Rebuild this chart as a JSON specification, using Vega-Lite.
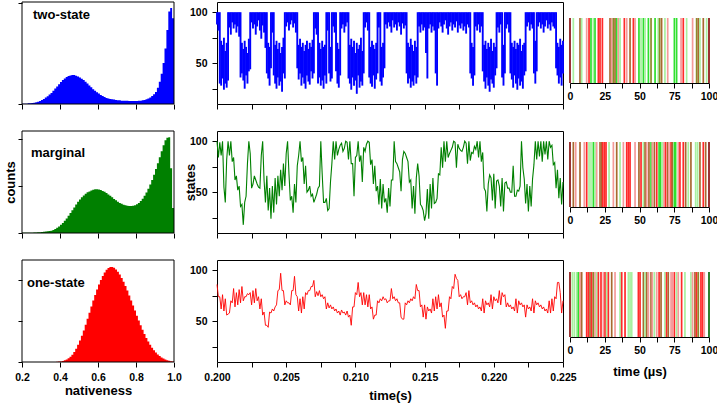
{
"$schema": "https://vega.github.io/schema/vega-lite/v6.json",
"background": "white",
"padding": {"left": 4, "top": 1, "right": 0, "bottom": 0},
"config": {
  "font": "Liberation Sans",
  "view": {"stroke": "black", "strokeWidth": 1},
  "axis": {"labelFont": "Liberation Sans", "labelFontWeight": "bold", "labelFontSize": 10.5, "labelColor": "black", "labelFlush": false,
           "titleFont": "Liberation Sans", "titleFontWeight": "bold", "titleFontSize": 13, "titleColor": "black",
           "domainColor": "black", "tickColor": "black", "grid": false, "labelPadding": 5, "tickSize": 5}
},
"datasets": {
"h1": [
{"n":0.2,"e":0.2,"c":0.01},{"n":0.2,"e":0.21,"c":0.01},{"n":0.21,"e":0.22,"c":0.01},{"n":0.22,"e":0.23,"c":0.01},{"n":0.23,"e":0.24,"c":0.02},{"n":0.24,"e":0.25,"c":0.02},{"n":0.25,"e":0.26,"c":0.03},{"n":0.26,"e":0.27,"c":0.04},{"n":0.27,"e":0.28,"c":0.05},{"n":0.28,"e":0.29,"c":0.07},{"n":0.29,"e":0.3,"c":0.09},
{"n":0.3,"e":0.31,"c":0.12},{"n":0.31,"e":0.32,"c":0.15},{"n":0.32,"e":0.33,"c":0.19},{"n":0.33,"e":0.34,"c":0.23},{"n":0.34,"e":0.35,"c":0.28},{"n":0.35,"e":0.36,"c":0.33},{"n":0.36,"e":0.37,"c":0.39},{"n":0.37,"e":0.38,"c":0.46},{"n":0.38,"e":0.39,"c":0.52},{"n":0.39,"e":0.4,"c":0.59},
{"n":0.4,"e":0.41,"c":0.65},{"n":0.41,"e":0.42,"c":0.71},{"n":0.42,"e":0.43,"c":0.76},{"n":0.43,"e":0.44,"c":0.8},{"n":0.44,"e":0.45,"c":0.83},{"n":0.45,"e":0.46,"c":0.85},{"n":0.46,"e":0.47,"c":0.86},{"n":0.47,"e":0.48,"c":0.86},{"n":0.48,"e":0.49,"c":0.84},{"n":0.49,"e":0.5,"c":0.82},
{"n":0.5,"e":0.51,"c":0.79},{"n":0.51,"e":0.52,"c":0.75},{"n":0.52,"e":0.53,"c":0.71},{"n":0.53,"e":0.54,"c":0.66},{"n":0.54,"e":0.55,"c":0.61},{"n":0.55,"e":0.56,"c":0.55},{"n":0.56,"e":0.57,"c":0.5},{"n":0.57,"e":0.58,"c":0.44},{"n":0.58,"e":0.59,"c":0.39},{"n":0.59,"e":0.6,"c":0.35},
{"n":0.6,"e":0.61,"c":0.31},{"n":0.61,"e":0.62,"c":0.27},{"n":0.62,"e":0.63,"c":0.24},{"n":0.63,"e":0.64,"c":0.21},{"n":0.64,"e":0.65,"c":0.18},{"n":0.65,"e":0.66,"c":0.16},{"n":0.66,"e":0.67,"c":0.15},{"n":0.67,"e":0.68,"c":0.14},{"n":0.68,"e":0.69,"c":0.13},{"n":0.69,"e":0.7,"c":0.12},
{"n":0.7,"e":0.71,"c":0.11},{"n":0.71,"e":0.72,"c":0.11},{"n":0.72,"e":0.73,"c":0.1},{"n":0.73,"e":0.74,"c":0.1},{"n":0.74,"e":0.75,"c":0.1},{"n":0.75,"e":0.76,"c":0.1},{"n":0.76,"e":0.77,"c":0.09},{"n":0.77,"e":0.78,"c":0.09},{"n":0.78,"e":0.79,"c":0.09},{"n":0.79,"e":0.8,"c":0.09},
{"n":0.8,"e":0.81,"c":0.09},{"n":0.81,"e":0.82,"c":0.1},{"n":0.82,"e":0.83,"c":0.1},{"n":0.83,"e":0.84,"c":0.11},{"n":0.84,"e":0.85,"c":0.12},{"n":0.85,"e":0.86,"c":0.14},{"n":0.86,"e":0.87,"c":0.16},{"n":0.87,"e":0.88,"c":0.19},{"n":0.88,"e":0.89,"c":0.24},{"n":0.89,"e":0.9,"c":0.29},
{"n":0.9,"e":0.91,"c":0.36},{"n":0.91,"e":0.92,"c":0.48},{"n":0.92,"e":0.93,"c":0.66},{"n":0.93,"e":0.94,"c":0.9},{"n":0.94,"e":0.95,"c":1.22},{"n":0.95,"e":0.96,"c":1.65},{"n":0.96,"e":0.97,"c":2.2},{"n":0.97,"e":0.98,"c":2.75},{"n":0.98,"e":0.99,"c":2.85},{"n":0.99,"e":1.0,"c":2.55}
],
"h2": [
{"n":0.2,"e":0.2,"c":0.01},{"n":0.2,"e":0.21,"c":0.01},{"n":0.21,"e":0.22,"c":0.01},{"n":0.22,"e":0.23,"c":0.01},{"n":0.23,"e":0.24,"c":0.01},{"n":0.24,"e":0.25,"c":0.01},{"n":0.25,"e":0.26,"c":0.01},{"n":0.26,"e":0.27,"c":0.02},{"n":0.27,"e":0.28,"c":0.02},{"n":0.28,"e":0.29,"c":0.03},{"n":0.29,"e":0.3,"c":0.03},
{"n":0.3,"e":0.31,"c":0.04},{"n":0.31,"e":0.32,"c":0.05},{"n":0.32,"e":0.33,"c":0.06},{"n":0.33,"e":0.34,"c":0.07},{"n":0.34,"e":0.35,"c":0.08},{"n":0.35,"e":0.36,"c":0.1},{"n":0.36,"e":0.37,"c":0.13},{"n":0.37,"e":0.38,"c":0.17},{"n":0.38,"e":0.39,"c":0.22},{"n":0.39,"e":0.4,"c":0.28},
{"n":0.4,"e":0.41,"c":0.35},{"n":0.41,"e":0.42,"c":0.43},{"n":0.42,"e":0.43,"c":0.52},{"n":0.43,"e":0.44,"c":0.62},{"n":0.44,"e":0.45,"c":0.73},{"n":0.45,"e":0.46,"c":0.85},{"n":0.46,"e":0.47,"c":0.97},{"n":0.47,"e":0.48,"c":1.09},{"n":0.48,"e":0.49,"c":1.21},{"n":0.49,"e":0.5,"c":1.33},
{"n":0.5,"e":0.51,"c":1.43},{"n":0.51,"e":0.52,"c":1.52},{"n":0.52,"e":0.53,"c":1.6},{"n":0.53,"e":0.54,"c":1.67},{"n":0.54,"e":0.55,"c":1.73},{"n":0.55,"e":0.56,"c":1.77},{"n":0.56,"e":0.57,"c":1.81},{"n":0.57,"e":0.58,"c":1.84},{"n":0.58,"e":0.59,"c":1.86},{"n":0.59,"e":0.6,"c":1.86},
{"n":0.6,"e":0.61,"c":1.85},{"n":0.61,"e":0.62,"c":1.83},{"n":0.62,"e":0.63,"c":1.79},{"n":0.63,"e":0.64,"c":1.75},{"n":0.64,"e":0.65,"c":1.7},{"n":0.65,"e":0.66,"c":1.64},{"n":0.66,"e":0.67,"c":1.58},{"n":0.67,"e":0.68,"c":1.52},{"n":0.68,"e":0.69,"c":1.45},{"n":0.69,"e":0.7,"c":1.39},
{"n":0.7,"e":0.71,"c":1.33},{"n":0.71,"e":0.72,"c":1.28},{"n":0.72,"e":0.73,"c":1.24},{"n":0.73,"e":0.74,"c":1.2},{"n":0.74,"e":0.75,"c":1.18},{"n":0.75,"e":0.76,"c":1.16},{"n":0.76,"e":0.77,"c":1.15},{"n":0.77,"e":0.78,"c":1.15},{"n":0.78,"e":0.79,"c":1.16},{"n":0.79,"e":0.8,"c":1.18},
{"n":0.8,"e":0.81,"c":1.22},{"n":0.81,"e":0.82,"c":1.28},{"n":0.82,"e":0.83,"c":1.36},{"n":0.83,"e":0.84,"c":1.46},{"n":0.84,"e":0.85,"c":1.58},{"n":0.85,"e":0.86,"c":1.72},{"n":0.86,"e":0.87,"c":1.88},{"n":0.87,"e":0.88,"c":2.06},{"n":0.88,"e":0.89,"c":2.26},{"n":0.89,"e":0.9,"c":2.48},
{"n":0.9,"e":0.91,"c":2.72},{"n":0.91,"e":0.92,"c":2.97},{"n":0.92,"e":0.93,"c":3.22},{"n":0.93,"e":0.94,"c":3.48},{"n":0.94,"e":0.95,"c":3.73},{"n":0.95,"e":0.96,"c":3.95},{"n":0.96,"e":0.97,"c":4.05},{"n":0.97,"e":0.98,"c":4.07},{"n":0.98,"e":0.99,"c":2.75},{"n":0.99,"e":1.0,"c":1.06}
],
"h3": [
{"n":0.36,"e":0.36,"c":0.003},{"n":0.36,"e":0.37,"c":0.003},{"n":0.37,"e":0.38,"c":0.006},{"n":0.38,"e":0.39,"c":0.01},{"n":0.39,"e":0.4,"c":0.02},
{"n":0.4,"e":0.41,"c":0.03},{"n":0.41,"e":0.42,"c":0.05},{"n":0.42,"e":0.43,"c":0.08},{"n":0.43,"e":0.44,"c":0.12},{"n":0.44,"e":0.45,"c":0.18},{"n":0.45,"e":0.46,"c":0.26},{"n":0.46,"e":0.47,"c":0.36},{"n":0.47,"e":0.48,"c":0.49},{"n":0.48,"e":0.49,"c":0.65},{"n":0.49,"e":0.5,"c":0.84},
{"n":0.5,"e":0.51,"c":1.05},{"n":0.51,"e":0.52,"c":1.29},{"n":0.52,"e":0.53,"c":1.55},{"n":0.53,"e":0.54,"c":1.83},{"n":0.54,"e":0.55,"c":2.12},{"n":0.55,"e":0.56,"c":2.42},{"n":0.56,"e":0.57,"c":2.72},{"n":0.57,"e":0.58,"c":3.01},{"n":0.58,"e":0.59,"c":3.29},{"n":0.59,"e":0.6,"c":3.55},
{"n":0.6,"e":0.61,"c":3.8},{"n":0.61,"e":0.62,"c":4.02},{"n":0.62,"e":0.63,"c":4.22},{"n":0.63,"e":0.64,"c":4.39},{"n":0.64,"e":0.65,"c":4.52},{"n":0.65,"e":0.66,"c":4.61},{"n":0.66,"e":0.67,"c":4.66},{"n":0.67,"e":0.68,"c":4.66},{"n":0.68,"e":0.69,"c":4.62},{"n":0.69,"e":0.7,"c":4.54},
{"n":0.7,"e":0.71,"c":4.43},{"n":0.71,"e":0.72,"c":4.29},{"n":0.72,"e":0.73,"c":4.12},{"n":0.73,"e":0.74,"c":3.93},{"n":0.74,"e":0.75,"c":3.72},{"n":0.75,"e":0.76,"c":3.5},{"n":0.76,"e":0.77,"c":3.26},{"n":0.77,"e":0.78,"c":3.02},{"n":0.78,"e":0.79,"c":2.77},{"n":0.79,"e":0.8,"c":2.52},
{"n":0.8,"e":0.81,"c":2.27},{"n":0.81,"e":0.82,"c":2.03},{"n":0.82,"e":0.83,"c":1.8},{"n":0.83,"e":0.84,"c":1.58},{"n":0.84,"e":0.85,"c":1.37},{"n":0.85,"e":0.86,"c":1.18},{"n":0.86,"e":0.87,"c":1.0},{"n":0.87,"e":0.88,"c":0.84},{"n":0.88,"e":0.89,"c":0.7},{"n":0.89,"e":0.9,"c":0.57},
{"n":0.9,"e":0.91,"c":0.46},{"n":0.91,"e":0.92,"c":0.37},{"n":0.92,"e":0.93,"c":0.29},{"n":0.93,"e":0.94,"c":0.22},{"n":0.94,"e":0.95,"c":0.17},{"n":0.95,"e":0.96,"c":0.12},{"n":0.96,"e":0.97,"c":0.09},{"n":0.97,"e":0.98,"c":0.06},{"n":0.98,"e":0.99,"c":0.04},{"n":0.99,"e":1.0,"c":0.02}
],
"tr": [
{"t":0.2,"a":88,"b":100,"g":100,"r":86},{"t":0.2001,"a":82,"b":100,"g":84,"r":74},{"t":0.2002,"a":30,"b":100,"g":99,"r":74},{"t":0.2003,"a":28,"b":72,"g":86,"r":62},{"t":0.2004,"a":35,"b":68,"g":100,"r":76},{"t":0.2005,"a":24,"b":75,"g":55,"r":60},{"t":0.2006,"a":30,"b":62,"g":40,"r":72},{"t":0.2007,"a":26,"b":70,"g":82,"r":56},{"t":0.2008,"a":33,"b":100,"g":100,"r":57},{"t":0.2009,"a":85,"b":100,"g":86,"r":58},
{"t":0.201,"a":78,"b":100,"g":100,"r":70},{"t":0.2011,"a":90,"b":100,"g":80,"r":68},{"t":0.2012,"a":84,"b":100,"g":84,"r":82},{"t":0.2013,"a":88,"b":100,"g":62,"r":64},{"t":0.2014,"a":80,"b":100,"g":66,"r":78},{"t":0.2015,"a":86,"b":100,"g":52,"r":66},{"t":0.2016,"a":76,"b":100,"g":56,"r":81},{"t":0.2017,"a":36,"b":100,"g":36,"r":68},{"t":0.2018,"a":40,"b":70,"g":38,"r":84},{"t":0.2019,"a":33,"b":64,"g":18,"r":70},
{"t":0.202,"a":25,"b":72,"g":40,"r":74},{"t":0.2021,"a":38,"b":66,"g":46,"r":74},{"t":0.2022,"a":30,"b":60,"g":78,"r":77},{"t":0.2023,"a":42,"b":74,"g":100,"r":76},{"t":0.2024,"a":44,"b":100,"g":88,"r":78},{"t":0.2025,"a":90,"b":100,"g":54,"r":66},{"t":0.2026,"a":84,"b":100,"g":58,"r":80},{"t":0.2027,"a":88,"b":100,"g":66,"r":68},{"t":0.2028,"a":78,"b":100,"g":62,"r":82},{"t":0.2029,"a":86,"b":100,"g":58,"r":70},
{"t":0.203,"a":92,"b":100,"g":55,"r":74},{"t":0.2031,"a":82,"b":100,"g":54,"r":62},{"t":0.2032,"a":74,"b":100,"g":86,"r":72},{"t":0.2033,"a":87,"b":100,"g":100,"r":56},{"t":0.2034,"a":80,"b":100,"g":62,"r":59},{"t":0.2035,"a":65,"b":100,"g":40,"r":46},{"t":0.2036,"a":40,"b":100,"g":66,"r":46},{"t":0.2037,"a":35,"b":70,"g":32,"r":44},{"t":0.2038,"a":28,"b":66,"g":54,"r":59},{"t":0.2039,"a":45,"b":100,"g":24,"r":58},
{"t":0.204,"a":80,"b":100,"g":56,"r":62},{"t":0.2041,"a":38,"b":100,"g":30,"r":60},{"t":0.2042,"a":30,"b":68,"g":64,"r":64},{"t":0.2043,"a":25,"b":72,"g":38,"r":66},{"t":0.2044,"a":36,"b":64,"g":66,"r":80},{"t":0.2045,"a":28,"b":70,"g":46,"r":81},{"t":0.2046,"a":32,"b":60,"g":72,"r":97},{"t":0.2047,"a":22,"b":66,"g":52,"r":80},{"t":0.2048,"a":40,"b":75,"g":78,"r":80},{"t":0.2049,"a":35,"b":100,"g":56,"r":66},
{"t":0.205,"a":86,"b":100,"g":88,"r":70},{"t":0.2051,"a":90,"b":100,"g":100,"r":68},{"t":0.2052,"a":82,"b":100,"g":68,"r":68},{"t":0.2053,"a":88,"b":100,"g":42,"r":66},{"t":0.2054,"a":92,"b":100,"g":46,"r":80},{"t":0.2055,"a":85,"b":100,"g":30,"r":80},{"t":0.2056,"a":89,"b":100,"g":58,"r":94},{"t":0.2057,"a":80,"b":100,"g":40,"r":76},{"t":0.2058,"a":45,"b":100,"g":76,"r":74},{"t":0.2059,"a":34,"b":68,"g":86,"r":60},
{"t":0.206,"a":40,"b":74,"g":100,"r":72},{"t":0.2061,"a":28,"b":66,"g":80,"r":58},{"t":0.2062,"a":36,"b":70,"g":84,"r":74},{"t":0.2063,"a":30,"b":62,"g":58,"r":62},{"t":0.2064,"a":25,"b":68,"g":76,"r":78},{"t":0.2065,"a":38,"b":72,"g":50,"r":76},{"t":0.2066,"a":32,"b":64,"g":52,"r":80},{"t":0.2067,"a":29,"b":70,"g":56,"r":80},{"t":0.2068,"a":42,"b":66,"g":46,"r":84},{"t":0.2069,"a":35,"b":73,"g":48,"r":84},
{"t":0.207,"a":40,"b":100,"g":40,"r":90},{"t":0.2071,"a":84,"b":100,"g":44,"r":74},{"t":0.2072,"a":78,"b":100,"g":48,"r":79},{"t":0.2073,"a":30,"b":100,"g":54,"r":75},{"t":0.2074,"a":36,"b":70,"g":56,"r":80},{"t":0.2075,"a":28,"b":64,"g":100,"r":74},{"t":0.2076,"a":33,"b":72,"g":68,"r":76},{"t":0.2077,"a":25,"b":66,"g":40,"r":72},{"t":0.2078,"a":38,"b":68,"g":40,"r":74},{"t":0.2079,"a":30,"b":100,"g":44,"r":62},
{"t":0.208,"a":82,"b":100,"g":32,"r":68},{"t":0.2081,"a":40,"b":100,"g":34,"r":63},{"t":0.2082,"a":32,"b":66,"g":60,"r":66},{"t":0.2083,"a":35,"b":100,"g":78,"r":62},{"t":0.2084,"a":86,"b":100,"g":100,"r":64},{"t":0.2085,"a":80,"b":100,"g":82,"r":60},{"t":0.2086,"a":42,"b":100,"g":100,"r":62},{"t":0.2087,"a":30,"b":70,"g":86,"r":58},{"t":0.2088,"a":26,"b":64,"g":92,"r":60},{"t":0.2089,"a":38,"b":100,"g":96,"r":56},
{"t":0.209,"a":84,"b":100,"g":98,"r":61},{"t":0.2091,"a":88,"b":100,"g":90,"r":58},{"t":0.2092,"a":80,"b":100,"g":93,"r":59},{"t":0.2093,"a":86,"b":100,"g":100,"r":56},{"t":0.2094,"a":90,"b":100,"g":99,"r":60},{"t":0.2095,"a":35,"b":100,"g":82,"r":54},{"t":0.2096,"a":30,"b":68,"g":100,"r":56},{"t":0.2097,"a":24,"b":74,"g":78,"r":46},{"t":0.2098,"a":36,"b":66,"g":78,"r":64},{"t":0.2099,"a":28,"b":72,"g":46,"r":64},
{"t":0.21,"a":33,"b":60,"g":84,"r":78},{"t":0.2101,"a":20,"b":70,"g":86,"r":76},{"t":0.2102,"a":38,"b":64,"g":100,"r":88},{"t":0.2103,"a":26,"b":68,"g":80,"r":74},{"t":0.2104,"a":32,"b":75,"g":86,"r":78},{"t":0.2105,"a":28,"b":62,"g":60,"r":66},{"t":0.2106,"a":40,"b":100,"g":94,"r":78},{"t":0.2107,"a":85,"b":100,"g":90,"r":66},{"t":0.2108,"a":90,"b":100,"g":97,"r":76},{"t":0.2109,"a":82,"b":100,"g":100,"r":64},
{"t":0.211,"a":36,"b":100,"g":99,"r":76},{"t":0.2111,"a":30,"b":66,"g":77,"r":62},{"t":0.2112,"a":27,"b":72,"g":82,"r":64},{"t":0.2113,"a":38,"b":68,"g":58,"r":52},{"t":0.2114,"a":25,"b":64,"g":76,"r":56},{"t":0.2115,"a":34,"b":70,"g":51,"r":56},{"t":0.2116,"a":40,"b":100,"g":56,"r":70},{"t":0.2117,"a":85,"b":100,"g":38,"r":68},{"t":0.2118,"a":32,"b":100,"g":63,"r":72},{"t":0.2119,"a":28,"b":66,"g":34,"r":70},
{"t":0.212,"a":36,"b":70,"g":58,"r":74},{"t":0.2121,"a":45,"b":100,"g":40,"r":71},{"t":0.2122,"a":88,"b":100,"g":44,"r":72},{"t":0.2123,"a":84,"b":100,"g":30,"r":68},{"t":0.2124,"a":90,"b":100,"g":54,"r":70},{"t":0.2125,"a":86,"b":100,"g":36,"r":70},{"t":0.2126,"a":80,"b":100,"g":62,"r":82},{"t":0.2127,"a":92,"b":100,"g":62,"r":72},{"t":0.2128,"a":85,"b":100,"g":100,"r":74},{"t":0.2129,"a":88,"b":100,"g":80,"r":70},
{"t":0.213,"a":82,"b":100,"g":78,"r":72},{"t":0.2131,"a":90,"b":100,"g":74,"r":68},{"t":0.2132,"a":86,"b":100,"g":70,"r":68},{"t":0.2133,"a":78,"b":100,"g":51,"r":54},{"t":0.2134,"a":89,"b":100,"g":82,"r":52},{"t":0.2135,"a":84,"b":100,"g":90,"r":52},{"t":0.2136,"a":87,"b":100,"g":88,"r":68},{"t":0.2137,"a":40,"b":100,"g":84,"r":66},{"t":0.2138,"a":30,"b":70,"g":80,"r":70},{"t":0.2139,"a":35,"b":66,"g":60,"r":68},
{"t":0.214,"a":26,"b":74,"g":62,"r":72},{"t":0.2141,"a":32,"b":68,"g":34,"r":70},{"t":0.2142,"a":28,"b":62,"g":56,"r":74},{"t":0.2143,"a":38,"b":72,"g":29,"r":72},{"t":0.2144,"a":30,"b":66,"g":64,"r":86},{"t":0.2145,"a":36,"b":100,"g":78,"r":80},{"t":0.2146,"a":86,"b":100,"g":66,"r":80},{"t":0.2147,"a":80,"b":100,"g":38,"r":64},{"t":0.2148,"a":88,"b":100,"g":36,"r":66},{"t":0.2149,"a":82,"b":100,"g":32,"r":54},
{"t":0.215,"a":85,"b":100,"g":22,"r":66},{"t":0.2151,"a":60,"b":100,"g":29,"r":52},{"t":0.2152,"a":35,"b":100,"g":53,"r":64},{"t":0.2153,"a":84,"b":100,"g":24,"r":60},{"t":0.2154,"a":88,"b":100,"g":58,"r":62},{"t":0.2155,"a":80,"b":100,"g":34,"r":58},{"t":0.2156,"a":86,"b":100,"g":64,"r":72},{"t":0.2157,"a":82,"b":100,"g":39,"r":60},{"t":0.2158,"a":40,"b":100,"g":40,"r":74},{"t":0.2159,"a":28,"b":100,"g":44,"r":62},
{"t":0.216,"a":84,"b":100,"g":68,"r":76},{"t":0.2161,"a":90,"b":100,"g":67,"r":64},{"t":0.2162,"a":86,"b":100,"g":94,"r":68},{"t":0.2163,"a":80,"b":100,"g":74,"r":54},{"t":0.2164,"a":88,"b":100,"g":100,"r":56},{"t":0.2165,"a":92,"b":100,"g":80,"r":43},{"t":0.2166,"a":84,"b":100,"g":100,"r":60},{"t":0.2167,"a":78,"b":100,"g":84,"r":60},{"t":0.2168,"a":86,"b":100,"g":88,"r":74},{"t":0.2169,"a":90,"b":100,"g":91,"r":72},
{"t":0.217,"a":82,"b":100,"g":94,"r":84},{"t":0.2171,"a":88,"b":100,"g":100,"r":82},{"t":0.2172,"a":85,"b":100,"g":99,"r":96},{"t":0.2173,"a":91,"b":100,"g":74,"r":92},{"t":0.2174,"a":80,"b":100,"g":97,"r":90},{"t":0.2175,"a":87,"b":100,"g":93,"r":74},{"t":0.2176,"a":84,"b":100,"g":91,"r":76},{"t":0.2177,"a":89,"b":100,"g":90,"r":72},{"t":0.2178,"a":82,"b":100,"g":94,"r":74},{"t":0.2179,"a":86,"b":100,"g":100,"r":74},
{"t":0.218,"a":79,"b":100,"g":98,"r":78},{"t":0.2181,"a":88,"b":100,"g":78,"r":66},{"t":0.2182,"a":85,"b":100,"g":100,"r":80},{"t":0.2183,"a":40,"b":100,"g":81,"r":68},{"t":0.2184,"a":35,"b":70,"g":89,"r":70},{"t":0.2185,"a":28,"b":66,"g":88,"r":66},{"t":0.2186,"a":38,"b":100,"g":95,"r":68},{"t":0.2187,"a":86,"b":100,"g":92,"r":64},{"t":0.2188,"a":82,"b":100,"g":100,"r":66},{"t":0.2189,"a":88,"b":100,"g":84,"r":62},
{"t":0.219,"a":80,"b":100,"g":100,"r":64},{"t":0.2191,"a":86,"b":100,"g":80,"r":60},{"t":0.2192,"a":42,"b":100,"g":89,"r":72},{"t":0.2193,"a":32,"b":68,"g":54,"r":58},{"t":0.2194,"a":25,"b":72,"g":51,"r":70},{"t":0.2195,"a":36,"b":64,"g":31,"r":66},{"t":0.2196,"a":28,"b":70,"g":58,"r":68},{"t":0.2197,"a":22,"b":66,"g":67,"r":64},{"t":0.2198,"a":34,"b":74,"g":64,"r":76},{"t":0.2199,"a":30,"b":62,"g":42,"r":62},
{"t":0.22,"a":26,"b":70,"g":68,"r":74},{"t":0.2201,"a":38,"b":66,"g":34,"r":70},{"t":0.2202,"a":45,"b":100,"g":61,"r":72},{"t":0.2203,"a":85,"b":100,"g":62,"r":68},{"t":0.2204,"a":80,"b":100,"g":56,"r":80},{"t":0.2205,"a":88,"b":100,"g":36,"r":66},{"t":0.2206,"a":36,"b":100,"g":64,"r":78},{"t":0.2207,"a":28,"b":68,"g":31,"r":74},{"t":0.2208,"a":40,"b":100,"g":59,"r":76},{"t":0.2209,"a":84,"b":100,"g":60,"r":64},
{"t":0.221,"a":88,"b":100,"g":54,"r":68},{"t":0.2211,"a":80,"b":100,"g":54,"r":64},{"t":0.2212,"a":40,"b":100,"g":50,"r":66},{"t":0.2213,"a":34,"b":70,"g":50,"r":62},{"t":0.2214,"a":26,"b":66,"g":76,"r":64},{"t":0.2215,"a":38,"b":72,"g":46,"r":60},{"t":0.2216,"a":30,"b":64,"g":46,"r":72},{"t":0.2217,"a":24,"b":70,"g":52,"r":58},{"t":0.2218,"a":35,"b":68,"g":51,"r":70},{"t":0.2219,"a":28,"b":74,"g":56,"r":66},
{"t":0.222,"a":32,"b":62,"g":100,"r":68},{"t":0.2221,"a":25,"b":68,"g":74,"r":64},{"t":0.2222,"a":38,"b":70,"g":63,"r":66},{"t":0.2223,"a":42,"b":100,"g":39,"r":54},{"t":0.2224,"a":86,"b":100,"g":58,"r":66},{"t":0.2225,"a":90,"b":100,"g":31,"r":62},{"t":0.2226,"a":82,"b":100,"g":56,"r":64},{"t":0.2227,"a":88,"b":100,"g":36,"r":60},{"t":0.2228,"a":84,"b":100,"g":63,"r":72},{"t":0.2229,"a":40,"b":100,"g":77,"r":58},
{"t":0.223,"a":30,"b":72,"g":100,"r":70},{"t":0.2231,"a":42,"b":100,"g":82,"r":66},{"t":0.2232,"a":86,"b":100,"g":100,"r":68},{"t":0.2233,"a":90,"b":100,"g":85,"r":64},{"t":0.2234,"a":84,"b":100,"g":100,"r":66},{"t":0.2235,"a":88,"b":100,"g":80,"r":62},{"t":0.2236,"a":80,"b":100,"g":100,"r":64},{"t":0.2237,"a":86,"b":100,"g":87,"r":60},{"t":0.2238,"a":92,"b":100,"g":100,"r":62},{"t":0.2239,"a":84,"b":100,"g":82,"r":58},
{"t":0.224,"a":88,"b":100,"g":100,"r":70},{"t":0.2241,"a":82,"b":100,"g":94,"r":58},{"t":0.2242,"a":90,"b":100,"g":96,"r":72},{"t":0.2243,"a":86,"b":100,"g":77,"r":60},{"t":0.2244,"a":84,"b":100,"g":79,"r":74},{"t":0.2245,"a":45,"b":100,"g":54,"r":72},{"t":0.2246,"a":38,"b":70,"g":72,"r":88},{"t":0.2247,"a":30,"b":66,"g":44,"r":88},{"t":0.2248,"a":36,"b":74,"g":64,"r":78},{"t":0.2249,"a":28,"b":68,"g":38,"r":58},
{"t":0.225,"a":40,"b":72,"g":60,"r":70}
],
"b1": [
{"x":0,"c":"dr"},{"x":2.4,"c":"lg"},{"x":7.2,"c":"b"},{"x":8.4,"c":"lg"},{"x":12,"c":"p"},{"x":13.7,"c":"r"},{"x":15.1,"c":"g"},{"x":16.8,"c":"lg"},{"x":18,"c":"g"},{"x":20.4,"c":"r"},{"x":21.6,"c":"r"},{"x":23.3,"c":"r"},
{"x":28.8,"c":"b"},{"x":30,"c":"p"},{"x":31.2,"c":"o"},{"x":32.4,"c":"b"},{"x":33.6,"c":"g"},{"x":34.8,"c":"p"},{"x":36,"c":"lg"},{"x":39.1,"c":"r"},{"x":40.8,"c":"p"},{"x":43.2,"c":"b"},{"x":45.6,"c":"r"},{"x":46.8,"c":"p"},
{"x":49.6,"c":"g"},{"x":51.1,"c":"lg"},{"x":52.8,"c":"g"},{"x":54,"c":"lg"},{"x":56.4,"c":"g"},{"x":58.3,"c":"o"},{"x":61.2,"c":"g"},{"x":63.5,"c":"lg"},{"x":64.5,"c":"o"},{"x":65.9,"c":"b"},{"x":68.3,"c":"lg"},{"x":70.3,"c":"p"},
{"x":75.1,"c":"g"},{"x":76.7,"c":"g"},{"x":79.9,"c":"p"},{"x":81.5,"c":"r"},{"x":83.9,"c":"lg"},{"x":88.2,"c":"p"},{"x":91.1,"c":"o"},{"x":92.3,"c":"b"},{"x":93.5,"c":"lg"},{"x":95.9,"c":"b"},{"x":98.3,"c":"lg"},{"x":100,"c":"dr"}
],
"b2": [
{"x":0,"c":"dr"},{"x":2.4,"c":"b"},{"x":4.1,"c":"p"},{"x":7.2,"c":"b"},{"x":10.3,"c":"p"},{"x":12,"c":"r"},{"x":13.7,"c":"lg"},{"x":15.1,"c":"lg"},{"x":16.8,"c":"g"},{"x":18,"c":"lg"},{"x":19.2,"c":"p"},{"x":21.6,"c":"b"},
{"x":22.8,"c":"b"},{"x":23.5,"c":"r"},{"x":24.7,"c":"r"},{"x":25.9,"c":"r"},{"x":28.1,"c":"lg"},{"x":31.2,"c":"p"},{"x":33.6,"c":"b"},{"x":36,"c":"lg"},{"x":38.4,"c":"p"},{"x":40.8,"c":"r"},{"x":42,"c":"r"},{"x":43.2,"c":"r"},
{"x":46.8,"c":"p"},{"x":49.6,"c":"b"},{"x":51.1,"c":"r"},{"x":52.8,"c":"lg"},{"x":54,"c":"b"},{"x":55.2,"c":"p"},{"x":56.8,"c":"b"},{"x":58.3,"c":"g"},{"x":59.2,"c":"p"},{"x":60.7,"c":"b"},{"x":62.4,"c":"r"},{"x":64.1,"c":"g"},
{"x":65.2,"c":"g"},{"x":66.4,"c":"lg"},{"x":67.6,"c":"p"},{"x":68.8,"c":"r"},{"x":70.3,"c":"b"},{"x":71.2,"c":"p"},{"x":72.7,"c":"r"},{"x":73.6,"c":"b"},{"x":75.1,"c":"g"},{"x":76,"c":"g"},{"x":77.9,"c":"p"},{"x":79.1,"c":"r"},
{"x":81.5,"c":"r"},{"x":83.2,"c":"b"},{"x":85.1,"c":"lg"},{"x":87,"c":"b"},{"x":90.4,"c":"lg"},{"x":91.8,"c":"lg"},{"x":93.5,"c":"b"},{"x":95.9,"c":"r"},{"x":97.6,"c":"b"},{"x":100,"c":"dr"}
],
"b3": [
{"x":0,"c":"dr"},{"x":1.7,"c":"lg"},{"x":3.1,"c":"lg"},{"x":4.8,"c":"lg"},{"x":6,"c":"g"},{"x":7.2,"c":"p"},{"x":8.4,"c":"b"},{"x":12,"c":"r"},{"x":13.2,"c":"r"},{"x":14.4,"c":"b"},{"x":15.6,"c":"r"},{"x":16.8,"c":"o"},
{"x":18,"c":"p"},{"x":19.2,"c":"lg"},{"x":20.4,"c":"r"},{"x":22.3,"c":"r"},{"x":24,"c":"p"},{"x":25.2,"c":"r"},{"x":26.4,"c":"lg"},{"x":27.6,"c":"r"},{"x":30,"c":"b"},{"x":32.4,"c":"p"},{"x":36,"c":"lg"},{"x":37.2,"c":"r"},
{"x":39.6,"c":"r"},{"x":42,"c":"lg"},{"x":43.2,"c":"lg"},{"x":44.4,"c":"lg"},{"x":49.2,"c":"r"},{"x":50.4,"c":"r"},{"x":52.8,"c":"b"},{"x":54,"c":"lg"},{"x":55.2,"c":"b"},{"x":56.4,"c":"p"},{"x":58.3,"c":"b"},{"x":59.2,"c":"p"},
{"x":60.7,"c":"lg"},{"x":62.4,"c":"p"},{"x":64.1,"c":"r"},{"x":65.5,"c":"b"},{"x":68.3,"c":"lg"},{"x":69.5,"c":"r"},{"x":70.7,"c":"b"},{"x":72.7,"c":"p"},{"x":73.6,"c":"p"},{"x":75.1,"c":"r"},{"x":76.7,"c":"lg"},{"x":77.9,"c":"p"},
{"x":80.3,"c":"r"},{"x":82.7,"c":"lg"},{"x":87,"c":"lg"},{"x":88.2,"c":"p"},{"x":89.9,"c":"b"},{"x":91.1,"c":"r"},{"x":92.3,"c":"o"},{"x":94.2,"c":"r"},{"x":95.4,"c":"r"},{"x":96.6,"c":"p"},{"x":100,"c":"dg"}
]
},
"columns": 3,
"bounds": "flush",
"align": "each",
"spacing": {"row": 27, "column": 7},
"concat": [
{
 "width": 188, "height": 102, "view": {"stroke": null},
 "layer": [
  {"data": {"name": "h1"}, "mark": {"type": "area", "color": "#0000ff", "interpolate": "step-before", "opacity": 1},
   "encoding": {
    "x": {"field": "e", "type": "quantitative", "sort": null, "scale": {"domain": [0.2, 1.18947], "nice": false, "zero": false},
          "axis": {"values": [0.2,0.3,0.4,0.5,0.6,0.7,0.8,0.9,1.0], "labels": false, "domain": false, "title": null}},
    "y": {"field": "c", "type": "quantitative", "scale": {"domain": [0, 3.03], "nice": false}, "axis": {"values": [0,1,2,3], "labels": false, "domain": false, "title": null, "tickSize": 4}}
   }},
  {"data": {"values": [{}]}, "mark": {"type": "rect", "filled": false, "color": "black", "strokeWidth": 1},
   "encoding": {"x": {"datum": 0.2, "type": "quantitative"}, "x2": {"datum": 1.0}, "y": {"datum": 0, "type": "quantitative"}, "y2": {"datum": 3.03}}},
  {"data": {"values": [{"label": "two-state"}]}, "mark": {"type": "text", "align": "left", "baseline": "middle", "fontSize": 13, "fontWeight": "bold", "font": "Liberation Sans", "color": "black"},
   "encoding": {"text": {"field": "label"}, "x": {"datum": 0.258, "type": "quantitative"}, "y": {"datum": 2.64, "type": "quantitative"}}}
 ]
},
{
 "width": 346, "height": 102,
 "data": {"name": "tr"},
 "mark": {"type": "rule", "color": "#0000ff", "strokeWidth": 1.9},
 "encoding": {
  "x": {"field": "t", "type": "quantitative", "scale": {"domain": [0.2, 0.225], "nice": false, "zero": false},
        "axis": {"values": [0.2,0.2025,0.205,0.2075,0.21,0.2125,0.215,0.2175,0.22,0.2225,0.225], "labels": false, "domain": false, "title": null}},
  "y": {"field": "a", "type": "quantitative", "scale": {"domain": [10, 110], "nice": false, "zero": false},
        "axis": {"values": [25,50,75,100], "labelExpr": "datum.value % 50 === 0 ? format(datum.value, 'd') : ''", "domain": false, "title": null}},
  "y2": {"field": "b"}
 }
},
{
 "width": 139, "height": 102, "view": {"stroke": null},
 "data": {"name": "b1"},
 "mark": {"type": "rule", "strokeWidth": 1.7},
 "encoding": {
  "x": {"field": "x", "type": "quantitative", "scale": {"domain": [0, 100], "nice": false},
        "axis": {"values": [0,12.5,25,37.5,50,62.5,75,87.5,100], "labelExpr": "datum.value % 25 === 0 ? format(datum.value, 'd') : ''", "offset": -21, "labelPadding": 3, "title": null}},
  "y": {"datum": 0.843, "type": "quantitative", "scale": {"domain": [0, 1], "nice": false}, "axis": null},
  "y2": {"datum": 0.206},
  "color": {"field": "c", "type": "nominal", "legend": null,
            "scale": {"domain": ["r","p","g","lg","b","o","dr","dg"], "range": ["#ff2a2a","#f49a9a","#2ee02e","#a8f0a0","#a86a30","#8c8a2a","#8b1010","#0a6a0a"]}}
 }
},
{
 "width": 188, "height": 102, "view": {"stroke": null},
 "layer": [
  {"data": {"name": "h2"}, "mark": {"type": "area", "color": "#008000", "interpolate": "step-before", "opacity": 1},
   "encoding": {
    "x": {"field": "e", "type": "quantitative", "sort": null, "scale": {"domain": [0.2, 1.18947], "nice": false, "zero": false},
          "axis": {"values": [0.2,0.3,0.4,0.5,0.6,0.7,0.8,0.9,1.0], "labels": false, "domain": false, "title": null}},
    "y": {"field": "c", "type": "quantitative", "scale": {"domain": [0, 4.34], "nice": false}, "axis": {"values": [0,1,2,3,4], "labels": false, "domain": false, "title": "counts", "titlePadding": 0, "tickSize": 4}}
   }},
  {"data": {"values": [{}]}, "mark": {"type": "rect", "filled": false, "color": "black", "strokeWidth": 1},
   "encoding": {"x": {"datum": 0.2, "type": "quantitative"}, "x2": {"datum": 1.0}, "y": {"datum": 0, "type": "quantitative"}, "y2": {"datum": 4.34}}},
  {"data": {"values": [{"label": "marginal"}]}, "mark": {"type": "text", "align": "left", "baseline": "middle", "fontSize": 13, "fontWeight": "bold", "font": "Liberation Sans", "color": "black"},
   "encoding": {"text": {"field": "label"}, "x": {"datum": 0.247, "type": "quantitative"}, "y": {"datum": 3.4, "type": "quantitative"}}}
 ]
},
{
 "width": 346, "height": 102,
 "data": {"name": "tr"},
 "mark": {"type": "line", "color": "#008000", "strokeWidth": 1.1},
 "encoding": {
  "x": {"field": "t", "type": "quantitative", "scale": {"domain": [0.2, 0.225], "nice": false, "zero": false},
        "axis": {"values": [0.2,0.2025,0.205,0.2075,0.21,0.2125,0.215,0.2175,0.22,0.2225,0.225], "labels": false, "domain": false, "title": null}},
  "y": {"field": "g", "type": "quantitative", "scale": {"domain": [10, 110], "nice": false, "zero": false},
        "axis": {"values": [25,50,75,100], "labelExpr": "datum.value % 50 === 0 ? format(datum.value, 'd') : ''", "domain": false, "title": "states", "titlePadding": -8}}
 }
},
{
 "width": 139, "height": 102, "view": {"stroke": null},
 "data": {"name": "b2"},
 "mark": {"type": "rule", "strokeWidth": 1.7},
 "encoding": {
  "x": {"field": "x", "type": "quantitative", "scale": {"domain": [0, 100], "nice": false},
        "axis": {"values": [0,12.5,25,37.5,50,62.5,75,87.5,100], "labelExpr": "datum.value % 25 === 0 ? format(datum.value, 'd') : ''", "offset": -26, "labelPadding": 3, "title": null}},
  "y": {"datum": 0.892, "type": "quantitative", "scale": {"domain": [0, 1], "nice": false}, "axis": null},
  "y2": {"datum": 0.255},
  "color": {"field": "c", "type": "nominal", "legend": null,
            "scale": {"domain": ["r","p","g","lg","b","o","dr","dg"], "range": ["#ff2a2a","#f49a9a","#2ee02e","#a8f0a0","#a86a30","#8c8a2a","#8b1010","#0a6a0a"]}}
 }
},
{
 "width": 188, "height": 102, "view": {"stroke": null},
 "layer": [
  {"data": {"name": "h3"}, "mark": {"type": "area", "color": "#ff0000", "interpolate": "step-before", "opacity": 1},
   "encoding": {
    "x": {"field": "e", "type": "quantitative", "sort": null, "scale": {"domain": [0.2, 1.18947], "nice": false, "zero": false},
          "axis": {"values": [0.2,0.3,0.4,0.5,0.6,0.7,0.8,0.9,1.0], "labelExpr": "round(datum.value*10) % 2 === 0 ? format(datum.value, '.1f') : ''", "domain": false, "title": "nativeness", "titleX": 76, "titlePadding": 2}},
    "y": {"field": "c", "type": "quantitative", "scale": {"domain": [0, 5], "nice": false}, "axis": {"values": [0,1,2,3,4,5], "labels": false, "domain": false, "title": null, "tickSize": 4}}
   }},
  {"data": {"values": [{}]}, "mark": {"type": "rect", "filled": false, "color": "black", "strokeWidth": 1},
   "encoding": {"x": {"datum": 0.2, "type": "quantitative"}, "x2": {"datum": 1.0}, "y": {"datum": 0, "type": "quantitative"}, "y2": {"datum": 5}}},
  {"data": {"values": [{"label": "one-state"}]}, "mark": {"type": "text", "align": "left", "baseline": "middle", "fontSize": 13, "fontWeight": "bold", "font": "Liberation Sans", "color": "black"},
   "encoding": {"text": {"field": "label"}, "x": {"datum": 0.226, "type": "quantitative"}, "y": {"datum": 3.85, "type": "quantitative"}}}
 ]
},
{
 "width": 346, "height": 102,
 "data": {"name": "tr"},
 "mark": {"type": "line", "color": "#ff0000", "strokeWidth": 0.9},
 "encoding": {
  "x": {"field": "t", "type": "quantitative", "scale": {"domain": [0.2, 0.225], "nice": false, "zero": false},
        "axis": {"values": [0.2,0.2025,0.205,0.2075,0.21,0.2125,0.215,0.2175,0.22,0.2225,0.225], "labelExpr": "round(datum.value*2000) % 10 === 0 ? format(datum.value, '.3f') : ''", "domain": false, "title": "time(s)", "titlePadding": 7}},
  "y": {"field": "r", "type": "quantitative", "scale": {"domain": [10, 110], "nice": false, "zero": false},
        "axis": {"values": [25,50,75,100], "labelExpr": "datum.value % 50 === 0 ? format(datum.value, 'd') : ''", "domain": false, "title": null}}
 }
},
{
 "width": 139, "height": 102, "view": {"stroke": null},
 "data": {"name": "b3"},
 "mark": {"type": "rule", "strokeWidth": 1.7},
 "encoding": {
  "x": {"field": "x", "type": "quantitative", "scale": {"domain": [0, 100], "nice": false},
        "axis": {"values": [0,12.5,25,37.5,50,62.5,75,87.5,100], "labelExpr": "datum.value % 25 === 0 ? format(datum.value, 'd') : ''", "offset": -25, "labelPadding": 3, "title": "time (µs)", "titlePadding": 10}},
  "y": {"datum": 0.882, "type": "quantitative", "scale": {"domain": [0, 1], "nice": false}, "axis": null},
  "y2": {"datum": 0.245},
  "color": {"field": "c", "type": "nominal", "legend": null,
            "scale": {"domain": ["r","p","g","lg","b","o","dr","dg"], "range": ["#ff2a2a","#f49a9a","#2ee02e","#a8f0a0","#a86a30","#8c8a2a","#8b1010","#0a6a0a"]}}
 }
}
]
}
